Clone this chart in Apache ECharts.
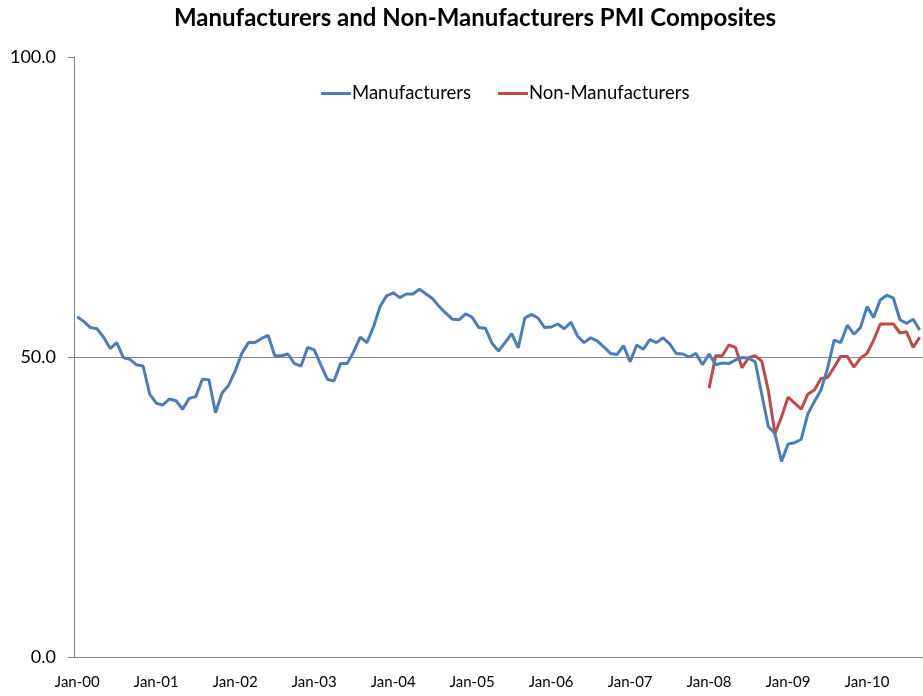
<!DOCTYPE html>
<html>
<head>
<meta charset="utf-8">
<script src="https://cdn.jsdelivr.net/npm/echarts@6/dist/echarts.min.js"></script>
<style>
  html, body { margin: 0; padding: 0; background: #fff; }
  #chart { width: 923px; height: 696px; }
</style>
</head>
<body>
<div id="chart"></div>
<script>
// Monthly PMI composite readings, Jan 2000 through Sep 2010
const years = ['00', '01', '02', '03', '04', '05', '06', '07', '08', '09', '10'];
const monthNames = ['Jan', 'Feb', 'Mar', 'Apr', 'May', 'Jun', 'Jul', 'Aug', 'Sep', 'Oct', 'Nov', 'Dec'];
const lastYearMonths = 9;

const manufacturers = [
  56.7, 55.9, 54.9, 54.7, 53.3, 51.4, 52.4, 49.9, 49.6, 48.7, 48.5, 43.8,
  42.3, 42.0, 43.0, 42.7, 41.3, 43.1, 43.4, 46.3, 46.2, 40.7, 44.0, 45.3,
  47.7, 50.6, 52.4, 52.4, 53.1, 53.6, 50.2, 50.2, 50.5, 48.9, 48.5, 51.6,
  51.2, 48.7, 46.3, 46.0, 48.9, 48.9, 50.9, 53.3, 52.4, 55.0, 58.4, 60.2,
  60.7, 59.9, 60.5, 60.5, 61.3, 60.5, 59.7, 58.4, 57.3, 56.3, 56.2, 57.2,
  56.6, 54.9, 54.8, 52.3, 51.0, 52.4, 53.9, 51.5, 56.5, 57.1, 56.5, 54.9,
  55.0, 55.5, 54.7, 55.8, 53.5, 52.4, 53.2, 52.7, 51.7, 50.6, 50.4, 51.9,
  49.2, 52.0, 51.3, 52.9, 52.4, 53.2, 52.2, 50.6, 50.5, 50.0, 50.6, 48.7,
  50.5, 48.7, 49.0, 48.9, 49.5, 49.9, 49.8, 49.2, 43.8, 38.4, 37.2, 32.6,
  35.5, 35.7, 36.3, 40.5, 42.6, 44.5, 48.1, 52.8, 52.4, 55.3, 53.8, 54.9,
  58.4, 56.6, 59.5, 60.3, 59.8, 56.2, 55.6, 56.3, 54.5
];

// Non-manufacturing composite begins in Jan 2008
const nonManufacturersStart = 96;
const nonManufacturers = [
  44.8, 50.2, 50.2, 52.0, 51.6, 48.2, 49.9, 50.2, 49.3, 44.4, 37.2, 40.0,
  43.3, 42.3, 41.3, 43.8, 44.5, 46.4, 46.6, 48.3, 50.1, 50.1, 48.3, 49.8,
  50.6, 52.8, 55.5, 55.5, 55.5, 54.0, 54.2, 51.6, 53.3
];

const yTicks = [0, 50, 100];

const categories = [];
years.forEach((y, yi) => {
  const n = yi === years.length - 1 ? lastYearMonths : 12;
  for (let m = 0; m < n; m++) categories.push(monthNames[m] + '-' + y);
});

const nonManSeries = categories.map((_, i) =>
  i < nonManufacturersStart ? null : nonManufacturers[i - nonManufacturersStart]);

const FONT = 'Lato, "Open Sans", sans-serif';
const chart = echarts.init(document.getElementById('chart'), null, { renderer: 'canvas' });

chart.setOption({
  animation: false,
  backgroundColor: '#ffffff',
  title: {
    text: 'Manufacturers and Non-Manufacturers PMI Composites',
    left: 169,
    top: 1,
    textStyle: { fontFamily: FONT, fontWeight: 'bold', fontSize: 24, color: '#000' }
  },
  legend: {
    left: 316,
    top: 79,
    itemWidth: 30,
    itemHeight: 3,
    itemGap: 27,
    icon: 'rect',
    textStyle: { fontFamily: FONT, fontSize: 18.5, color: '#000', padding: [0, 0, 0, -4] },
    data: ['Manufacturers', 'Non-Manufacturers']
  },
  grid: { left: 74, top: 57, width: 853, height: 600, containLabel: false },
  xAxis: {
    type: 'category',
    data: categories,
    boundaryGap: true,
    axisLine: { lineStyle: { color: '#868686', width: 1 } },
    axisTick: { interval: 11, length: 6, lineStyle: { color: '#868686' } },
    axisLabel: {
      interval: 11,
      margin: 18,
      fontFamily: FONT,
      fontSize: 15,
      color: '#000'
    },
    splitLine: { show: false }
  },
  yAxis: {
    type: 'value',
    min: yTicks[0],
    max: yTicks[yTicks.length - 1],
    interval: yTicks[1] - yTicks[0],
    axisLine: { show: true, lineStyle: { color: '#868686', width: 1 } },
    axisTick: { show: true, length: 6, lineStyle: { color: '#868686' } },
    axisLabel: {
      margin: 18,
      fontFamily: FONT,
      fontSize: 18,
      color: '#000',
      formatter: v => v.toFixed(1)
    },
    splitLine: { show: false }
  },
  series: [
    {
      name: 'Manufacturers',
      type: 'line',
      data: manufacturers,
      symbol: 'none',
      lineStyle: { color: '#4A7EBB', width: 3 },
      itemStyle: { color: '#4A7EBB' },
      z: 3,
      markLine: {
        silent: true,
        symbol: 'none',
        label: { show: false },
        lineStyle: { color: '#868686', width: 1, type: 'solid' },
        data: [{ yAxis: yTicks[1] }],
        z: 1
      }
    },
    {
      name: 'Non-Manufacturers',
      type: 'line',
      data: nonManSeries,
      symbol: 'none',
      lineStyle: { color: '#BE4B48', width: 3 },
      itemStyle: { color: '#BE4B48' },
      z: 2
    }
  ]
});
</script>
</body>
</html>
